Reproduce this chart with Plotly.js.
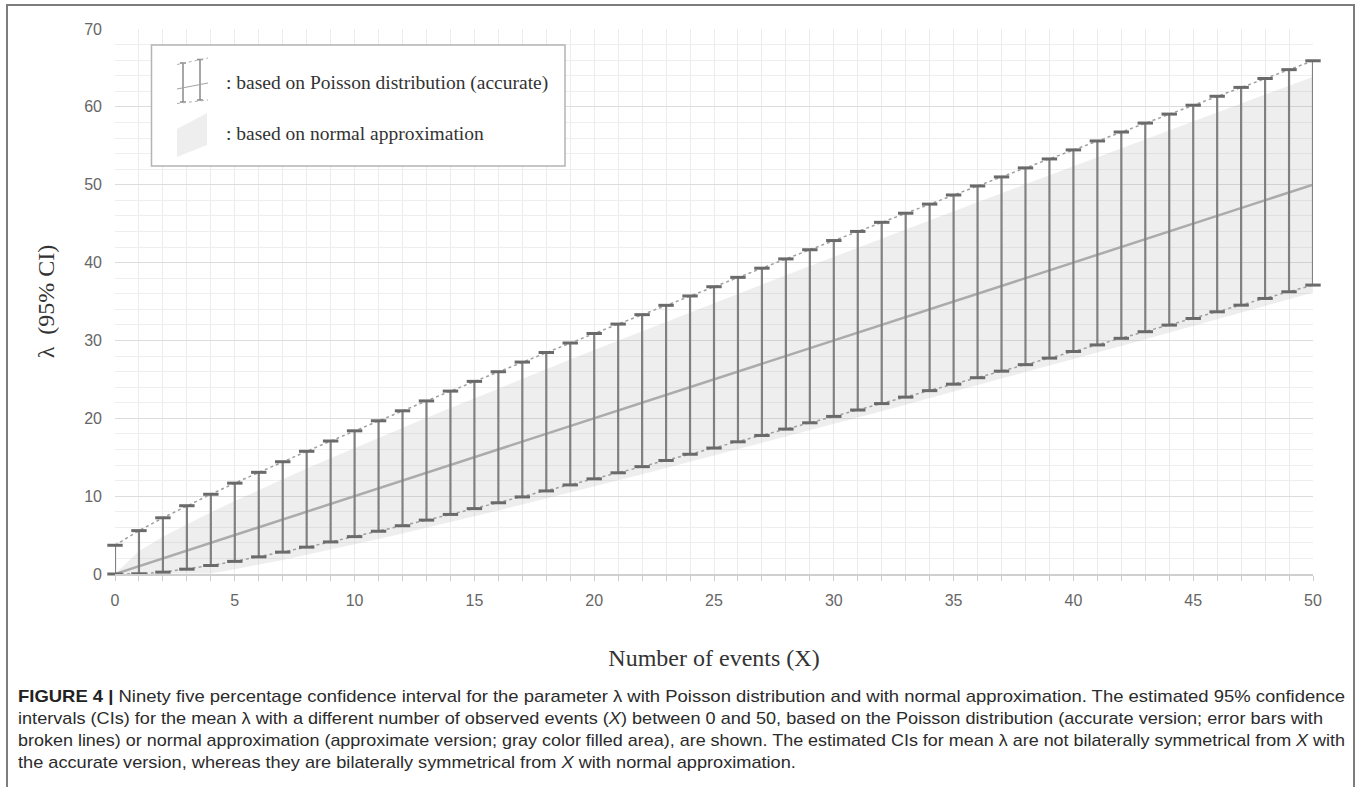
<!DOCTYPE html>
<html>
<head>
<meta charset="utf-8">
<script src="https://cdn.plot.ly/plotly-3.0.1.min.js"></script>
<style>
  html, body { margin: 0; padding: 0; background: #ffffff; }
  #wrap { position: relative; width: 1357px; height: 787px; overflow: hidden; background: #fff; }
  #chart { position: absolute; left: 0; top: 0; width: 1357px; height: 787px; }
  #frame { position: absolute; left: 6px; top: 4px; width: 1349px; height: 900px;
           border: 2px solid #7d7d7d; pointer-events: none; box-sizing: border-box; }
  #caption { position: absolute; left: 18px; top: 686px; width: 1335px;
             font-family: "Liberation Sans Narrow", "Liberation Sans", Arial, sans-serif;
             font-size: 17px; line-height: 22px; color: #2b2b2b; }
  #caption .ln { white-space: nowrap; transform-origin: 0 50%; display: block; width: max-content; }
  #caption b { font-weight: bold; color: #222; }
</style>
</head>
<body>
<div id="wrap">
  <div id="chart"></div>
  <div id="frame"></div>
  <div id="caption">
    <span class="ln"><b>FIGURE 4 |</b> Ninety five percentage confidence interval for the parameter λ with Poisson distribution and with normal approximation. The estimated 95% confidence</span>
    <span class="ln">intervals (CIs) for the mean λ with a different number of observed events (<i>X</i>) between 0 and 50, based on the Poisson distribution (accurate version; error bars with</span>
    <span class="ln">broken lines) or normal approximation (approximate version; gray color filled area), are shown. The estimated CIs for mean λ are not bilaterally symmetrical from <i>X</i> with</span>
    <span class="ln">the accurate version, whereas they are bilaterally symmetrical from <i>X</i> with normal approximation.</span>
  </div>
</div>
<script>
// ---------------- data ----------------
const events = [0,1,2,3,4,5,6,7,8,9,10,11,12,13,14,15,16,17,18,19,20,21,22,23,24,25,
                26,27,28,29,30,31,32,33,34,35,36,37,38,39,40,41,42,43,44,45,46,47,48,49,50];

const poissonLower = [0.00,0.03,0.24,0.62,1.09,1.62,2.20,2.81,3.45,4.12,4.80,5.49,6.20,6.92,7.65,
                      8.40,9.15,9.90,10.67,11.44,12.22,13.00,13.79,14.58,15.38,16.18,16.98,17.79,
                      18.61,19.42,20.24,21.06,21.89,22.72,23.55,24.38,25.21,26.05,26.89,27.73,28.58,
                      29.42,30.27,31.12,31.97,32.82,33.68,34.53,35.39,36.25,37.11];

const poissonUpper = [3.69,5.57,7.22,8.77,10.24,11.67,13.06,14.42,15.76,17.08,18.39,19.68,20.96,
                      22.23,23.49,24.74,25.98,27.22,28.45,29.67,30.89,32.10,33.31,34.51,35.71,36.90,
                      38.10,39.28,40.47,41.65,42.83,44.00,45.17,46.34,47.51,48.68,49.84,51.00,52.16,
                      53.31,54.47,55.62,56.77,57.92,59.07,60.21,61.36,62.50,63.64,64.78,65.92];

const normalLower = [0.00,0.00,0.00,0.00,0.08,0.62,1.20,1.81,2.46,3.12,3.80,4.50,5.21,5.93,6.67,
                     7.41,8.16,8.92,9.68,10.46,11.23,12.02,12.81,13.60,14.40,15.20,16.01,16.82,17.63,
                     18.45,19.27,20.09,20.91,21.74,22.57,23.40,24.24,25.08,25.92,26.76,27.60,28.45,
                     29.30,30.15,31.00,31.85,32.71,33.56,34.42,35.28,36.14];

const normalUpper = [0.00,2.96,4.77,6.39,7.92,9.38,10.80,12.19,13.54,14.88,16.20,17.50,18.79,20.07,
                     21.33,22.59,23.84,25.08,26.32,27.54,28.77,29.98,31.19,32.40,33.60,34.80,35.99,
                     37.18,38.37,39.55,40.74,41.91,43.09,44.26,45.43,46.60,47.76,48.92,50.08,51.24,
                     52.40,53.55,54.70,55.85,57.00,58.15,59.29,60.44,61.58,62.72,63.86];

const pointEstimate = events.slice();   // lambda-hat = X

const xTickVals = [0,5,10,15,20,25,30,35,40,45,50];
const yTickVals = [0,10,20,30,40,50,60,70];

const xTitle = 'Number of events (X)';
const yTitle = 'λ\u00a0\u00a0(95% CI)';
const legendTexts = [': based on Poisson distribution (accurate)', ': based on normal approximation'];

// ---------------- geometry helpers (pixels -> paper) ----------------
const M = {l: 115, r: 44, t: 29, b: 213};
const PW = 1357 - M.l - M.r, PH = 787 - M.t - M.b;
const fx = px => (px - M.l) / PW;
const fy = py => (M.t + PH - py) / PH;

// error-bar stems as one line trace with gaps
const stemX = [], stemY = [];
events.forEach((x, i) => { stemX.push(x, x, null); stemY.push(poissonLower[i], poissonUpper[i], null); });

const traces = [
  { x: events, y: normalLower, mode: 'lines', line: {width: 0, color: 'rgba(0,0,0,0)'},
    hoverinfo: 'skip', showlegend: false },
  { x: events, y: normalUpper, mode: 'lines', line: {width: 0, color: 'rgba(0,0,0,0)'},
    fill: 'tonexty', fillcolor: 'rgba(160,160,160,0.18)', hoverinfo: 'skip', showlegend: false },
  { x: events, y: pointEstimate, mode: 'lines', line: {color: '#ababab', width: 2.5},
    showlegend: false },
  { x: events, y: poissonUpper, mode: 'lines', line: {color: '#a0a0a0', width: 1.5, dash: '3px,3px'},
    showlegend: false, cliponaxis: false },
  { x: events, y: poissonLower, mode: 'lines', line: {color: '#a0a0a0', width: 1.5, dash: '3px,3px'},
    showlegend: false, cliponaxis: false },
  { x: stemX, y: stemY, mode: 'lines', line: {color: '#808080', width: 2.2}, connectgaps: false,
    showlegend: false, cliponaxis: false },
  { x: events.concat(events), y: poissonUpper.concat(poissonLower), mode: 'markers',
    marker: {symbol: 'line-ew', size: 11, color: '#6a6a6a', line: {width: 3, color: '#6a6a6a'}},
    showlegend: false, cliponaxis: false }
];

// legend box drawn with shapes/annotations
const shapes = [
  {type: 'rect', xref: 'paper', yref: 'paper', x0: fx(151.5), x1: fx(565), y0: fy(166), y1: fy(45),
   line: {color: '#b4b4b4', width: 1.5}, fillcolor: '#ffffff', layer: 'above'},
  {type: 'line', xref: 'paper', yref: 'paper', x0: fx(183), x1: fx(183), y0: fy(102), y1: fy(63),
   line: {color: '#8a8a8a', width: 1.5}, layer: 'above'},
  {type: 'line', xref: 'paper', yref: 'paper', x0: fx(200), x1: fx(200), y0: fy(100), y1: fy(59.5),
   line: {color: '#8a8a8a', width: 1.5}, layer: 'above'},
  {type: 'line', xref: 'paper', yref: 'paper', x0: fx(180), x1: fx(186), y0: fy(63), y1: fy(63),
   line: {color: '#8a8a8a', width: 1.5}, layer: 'above'},
  {type: 'line', xref: 'paper', yref: 'paper', x0: fx(197), x1: fx(203), y0: fy(59.5), y1: fy(59.5),
   line: {color: '#8a8a8a', width: 1.5}, layer: 'above'},
  {type: 'line', xref: 'paper', yref: 'paper', x0: fx(180), x1: fx(186), y0: fy(102), y1: fy(102),
   line: {color: '#8a8a8a', width: 1.5}, layer: 'above'},
  {type: 'line', xref: 'paper', yref: 'paper', x0: fx(197), x1: fx(203), y0: fy(100), y1: fy(100),
   line: {color: '#8a8a8a', width: 1.5}, layer: 'above'},
  {type: 'line', xref: 'paper', yref: 'paper', x0: fx(177), x1: fx(208), y0: fy(64.5), y1: fy(58),
   line: {color: '#b0b0b0', width: 1, dash: 'dot'}, layer: 'above'},
  {type: 'line', xref: 'paper', yref: 'paper', x0: fx(177), x1: fx(208), y0: fy(103.5), y1: fy(100),
   line: {color: '#b0b0b0', width: 1, dash: 'dot'}, layer: 'above'},
  {type: 'line', xref: 'paper', yref: 'paper', x0: fx(177), x1: fx(208), y0: fy(89), y1: fy(83),
   line: {color: '#a5a5a5', width: 1.2}, layer: 'above'},
  {type: 'path', xref: 'paper', yref: 'paper',
   path: `M ${fx(177)} ${fy(129)} L ${fx(207)} ${fy(113)} L ${fx(207)} ${fy(145)} L ${fx(177)} ${fy(157)} Z`,
   fillcolor: '#eeeeee', line: {width: 0}, layer: 'above'}
];

const serif = '"Liberation Serif", "Times New Roman", Times, serif';
const sans = '"Liberation Sans", Arial, Helvetica, sans-serif';

const annotations = [
  {xref: 'paper', yref: 'paper', x: fx(224), y: fy(83), xanchor: 'left', yanchor: 'middle',
   text: legendTexts[0], showarrow: false, font: {family: serif, size: 19.5, color: '#333'}},
  {xref: 'paper', yref: 'paper', x: fx(224), y: fy(134), xanchor: 'left', yanchor: 'middle',
   text: legendTexts[1], showarrow: false, font: {family: serif, size: 19.5, color: '#333'}}
];

const layout = {
  width: 1357, height: 787,
  margin: M,
  paper_bgcolor: '#ffffff', plot_bgcolor: '#ffffff',
  showlegend: false,
  xaxis: {
    range: [0, 50], tickmode: 'array', tickvals: xTickVals, ticktext: xTickVals.map(String),
    showgrid: true, gridcolor: '#ececec', gridwidth: 1,
    ticks: 'outside', ticklen: 5, tickcolor: '#cccccc', tickwidth: 1,
    minor: {dtick: 1, tick0: 0, showgrid: true, gridcolor: '#ececec', gridwidth: 1,
            ticks: 'outside', ticklen: 5, tickcolor: '#cccccc'},
    showline: true, linecolor: '#cfcfcf', linewidth: 2, zeroline: false,
    tickfont: {family: sans, size: 16, color: '#666666'},
    ticklabelstandoff: 6,
    title: {text: xTitle, font: {family: serif, size: 24, color: '#333333'}, standoff: 41}
  },
  yaxis: {
    range: [0, 70], tickmode: 'array', tickvals: yTickVals, ticktext: yTickVals.map(String),
    showgrid: true, gridcolor: '#dcdcdc', gridwidth: 1,
    minor: {dtick: 2, tick0: 0, showgrid: true, gridcolor: '#eeeeee', gridwidth: 1},
    ticks: '', zeroline: false, showline: false,
    tickfont: {family: sans, size: 16, color: '#666666'},
    ticklabelstandoff: 12,
    title: {text: yTitle, font: {family: serif, size: 24, color: '#333333'}, standoff: 22}
  },
  shapes: shapes,
  annotations: annotations
};

Plotly.newPlot('chart', traces, layout, {displayModeBar: false, staticPlot: true});

// fit caption lines to the measured widths of the reference
const targets = [1327, 1305, 1327];
const lines = document.querySelectorAll('#caption .ln');
const scales = [];
targets.forEach((t, i) => {
  const w = lines[i].getBoundingClientRect().width;
  scales.push(t / w);
  lines[i].style.transform = `scaleX(${t / w})`;
});
const avg = scales.reduce((a, b) => a + b, 0) / scales.length;
lines[3].style.transform = `scaleX(${avg})`;
</script>
</body>
</html>
